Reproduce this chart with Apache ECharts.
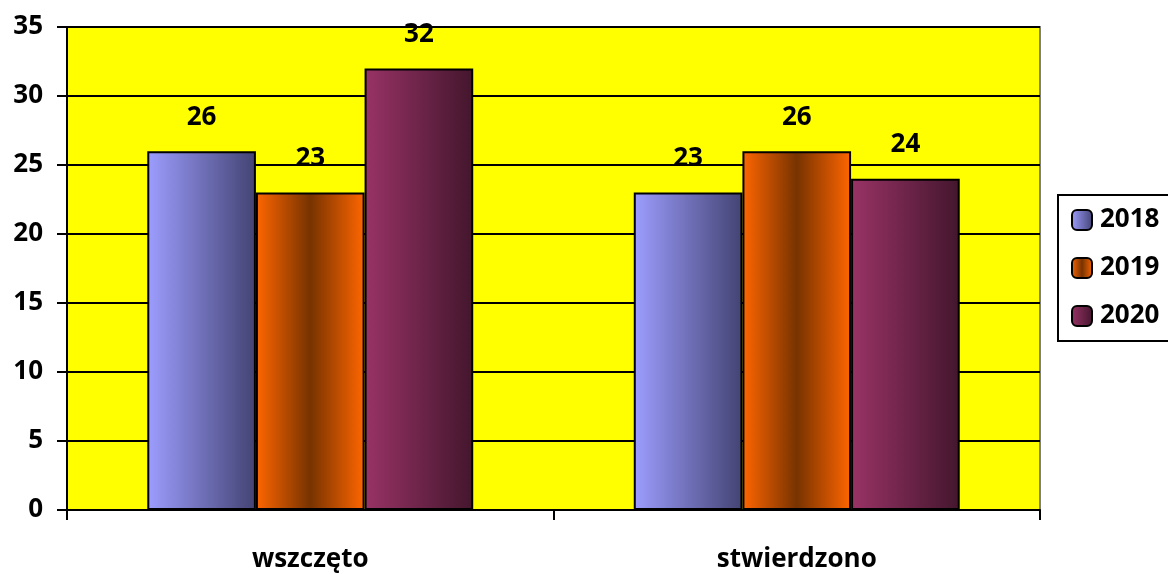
<!DOCTYPE html>
<html>
<head>
<meta charset="utf-8">
<script src="https://cdn.jsdelivr.net/npm/echarts@6/dist/echarts.min.js"></script>
<style>
  html, body { margin: 0; padding: 0; background: #fff; }
  #chart { width: 1168px; height: 574px; }
</style>
</head>
<body>
<div id="chart"></div>
<script>
// dane
var categories = ["wszczęto", "stwierdzono"];
var years = ["2018", "2019", "2020"];
var values2018 = [26, 23];
var values2019 = [23, 26];
var values2020 = [32, 24];
var yTicks = [0, 5, 10, 15, 20, 25, 30, 35];

var font = "'Open Sans', Lato, sans-serif";

function grad(stops) {
    return new echarts.graphic.LinearGradient(0, 0, 1, 0, stops);
}
var colors = [
    grad([{ offset: 0, color: "#9d9dff" }, { offset: 1, color: "#434373" }]),
    grad([{ offset: 0, color: "#ff6600" }, { offset: 0.5, color: "#773300" }, { offset: 1, color: "#ff6600" }]),
    grad([{ offset: 0, color: "#993366" }, { offset: 1, color: "#43162d" }])
];
var seriesData = [values2018, values2019, values2020];

var chart = echarts.init(document.getElementById("chart"));
var series = [];
for (var i = 0; i < years.length; i++) {
    series.push({
        name: years[i],
        type: "bar",
        data: seriesData[i],
        barGap: "0%",
        barCategoryGap: "33%",
        itemStyle: { color: colors[i], borderColor: "#000", borderWidth: 2 },
        label: {
            show: true,
            position: "top",
            distance: 21,
            color: "#000",
            fontFamily: font,
            fontWeight: "bold",
            fontSize: 26
        }
    });
}

var option = {
    animation: false,
    grid: {
        left: 67, right: 128, top: 27, bottom: 64,
        show: true,
        backgroundColor: "#ffff00",
        borderColor: "#808080",
        borderWidth: 2
    },
    legend: {
        orient: "vertical",
        left: 1058,
        top: 195,
        itemWidth: 20,
        itemHeight: 20,
        itemGap: 22,
        padding: [12, 20, 12, 13],
        borderColor: "#000",
        borderWidth: 2,
        backgroundColor: "#fff",
        itemStyle: { borderColor: "#000", borderWidth: 2 },
        textStyle: { color: "#000", fontFamily: font, fontWeight: "bold", fontSize: 26, lineHeight: 26, padding: [0, 0, 0, 3] },
        data: years
    },
    xAxis: {
        type: "category",
        data: categories,
        axisLine: { lineStyle: { color: "#000", width: 2 } },
        axisTick: { show: true, length: 10, lineStyle: { color: "#000", width: 2 } },
        axisLabel: { color: "#000", fontFamily: font, fontWeight: "bold", fontSize: 26, margin: 37 }
    },
    yAxis: {
        type: "value",
        min: yTicks[0],
        max: yTicks[yTicks.length - 1],
        interval: 5,
        axisLine: { show: true, lineStyle: { color: "#000", width: 2 } },
        axisTick: { show: true, length: 10, lineStyle: { color: "#000", width: 2 } },
        splitLine: { lineStyle: { color: "#000", width: 2 } },
        axisLabel: { color: "#000", fontFamily: font, fontWeight: "bold", fontSize: 26, margin: 24 }
    },
    series: series
};
chart.setOption(option);
</script>
</body>
</html>
